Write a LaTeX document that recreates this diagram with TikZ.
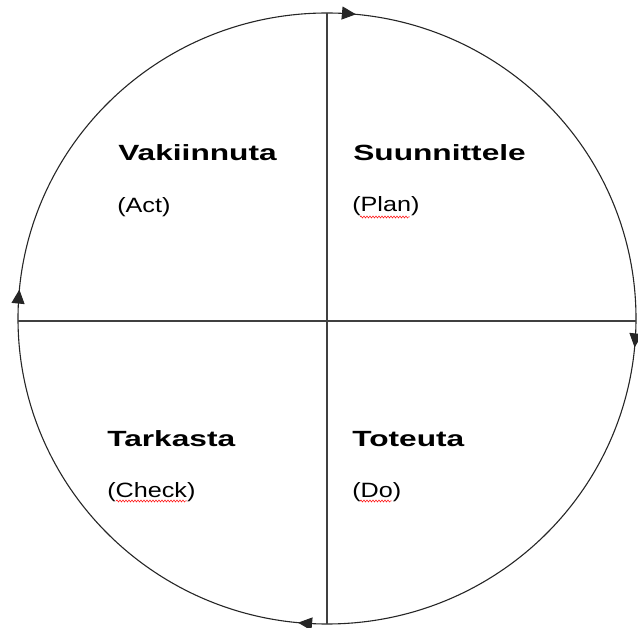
\documentclass[tikz,border=0pt]{standalone}
\usepackage{fontspec}
\setmainfont{Liberation Sans}
\usetikzlibrary{arrows.meta,decorations.markings,decorations.pathmorphing,calc}
\tikzset{
  cyctip/.tip  = {Triangle[length=14pt,width=13pt]},
  rim/.style   = {draw=black!85, line width=1.1pt, postaction={decorate},
                  decoration={markings,
                    mark=at position 0.235 with {\arrowreversed{cyctip}},
                    mark=at position 0.485 with {\arrowreversed{cyctip}},
                    mark=at position 0.735 with {\arrowreversed{cyctip}},
                    mark=at position 0.985 with {\arrowreversed{cyctip}}}},
  axis/.style  = {draw=black!75, line width=1.2pt},
  head/.style  = {anchor=base west, inner sep=0pt, font=\bfseries\fontsize{22}{26}\selectfont,
                  xscale=1.44, transform shape},
  sub/.style   = {anchor=base west, inner sep=0pt, font=\fontsize{18}{22}\selectfont,
                  xscale=1.4, yscale=1.15, transform shape},
  spell/.style = {draw=red, line width=0.5pt, decorate,
                  decoration={snake, amplitude=1pt, segment length=3pt}},
}
\begin{document}
\begin{tikzpicture}[x=1pt, y=1pt]
  \useasboundingbox (0,0) rectangle (638,-628);

  \draw[rim] (327,-318.5) ellipse [x radius=309pt, y radius=305.5pt];

  \coordinate (top) at (327,-13);
  \coordinate (bot) at (327,-624);
  \coordinate (lft) at (18,-321);
  \coordinate (rgt) at (636,-321);
  \draw[axis] (top) -- (bot);
  \draw[axis] (lft) -- (rgt);

  \node[head] (vak) at (118,-161) {Vakiinnuta};
  \node[sub]  (act) at (117,-213) {(Act)};
  \node[head] (suu) at (353,-161) {Suunnittele};
  \node[sub]  (plan) at (352,-212) {(Plan)};
  \node[head] (tar) at (107,-447) {Tarkasta};
  \node[sub]  (chk) at (107,-497) {(Check)};
  \node[head] (tot) at (352,-447) {Toteuta};
  \node[sub]  (do) at (352,-497) {(Do)};

  \draw[spell] ($(plan.base west)+(8,-5)$) -- ($(plan.base east)+(-10,-5)$);
  \draw[spell] ($(chk.base west)+(9,-4)$) -- ($(chk.base east)+(-9,-4)$);
  \draw[spell] ($(do.base west)+(8,-4)$) -- ($(do.base east)+(-10,-4)$);
\end{tikzpicture}
\end{document}
